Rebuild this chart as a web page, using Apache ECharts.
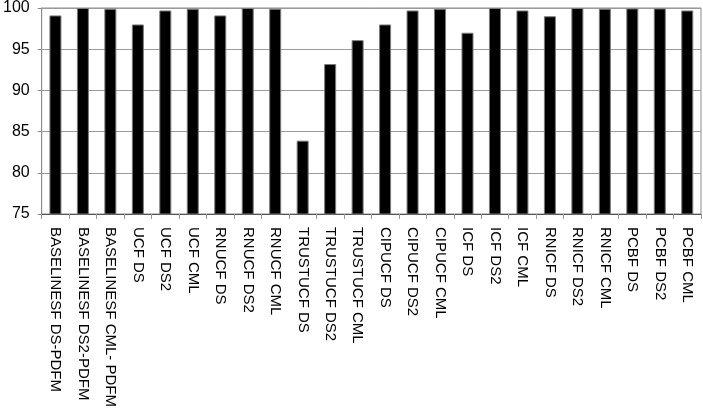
<!DOCTYPE html>
<html style="height:100%">
<head>
    <meta charset="utf-8">
    <title>Scores</title>
    <script src="https://cdn.jsdelivr.net/npm/echarts@6/dist/echarts.min.js"></script>
</head>
<body style="height:100%;width:100%;margin:0;background:#fff;">
    <div id="main" style="width:703px;height:418px;margin:0"></div>
    <script type="text/javascript">
        // categories and values
        var categories = [
            'BASELINESF DS-PDFM', 'BASELINESF DS2-PDFM', 'BASELINESF CML- PDFM',
            'UCF DS', 'UCF DS2', 'UCF CML',
            'RNUCF DS', 'RNUCF DS2', 'RNUCF CML',
            'TRUSTUCF DS', 'TRUSTUCF DS2', 'TRUSTUCF CML',
            'CIPUCF DS', 'CIPUCF DS2', 'CIPUCF CML',
            'ICF DS', 'ICF DS2', 'ICF CML',
            'RNICF DS', 'RNICF DS2', 'RNICF CML',
            'PCBF DS', 'PCBF DS2', 'PCBF CML'
        ];
        var values = [
            99.1, 100, 99.9,
            98.0, 99.7, 99.9,
            99.1, 100, 99.9,
            83.9, 93.2, 96.1,
            98.0, 99.7, 99.9,
            97.0, 100, 99.7,
            99.0, 100, 99.9,
            99.95, 99.95, 99.7
        ];
        var yTicks = { min: 75, max: 100, step: 5 };

        var myChart = echarts.init(document.getElementById('main'));
        myChart.setOption({
            animation: false,
            textStyle: { fontFamily: 'Liberation Sans' },
            grid: {
                left: 38, right: 2, top: 6, bottom: 204,
                show: true,
                borderColor: '#8c8c8c',
                borderWidth: 1
            },
            xAxis: {
                type: 'category',
                data: categories,
                axisLine: { lineStyle: { color: '#555', width: 1 } },
                axisTick: { show: true, length: 5, lineStyle: { color: '#999' } },
                axisLabel: {
                    interval: 0,
                    rotate: -90,
                    margin: 13,
                    color: '#000',
                    fontSize: 15,
                    fontFamily: 'Liberation Sans'
                }
            },
            yAxis: {
                type: 'value',
                min: yTicks.min,
                max: yTicks.max,
                interval: yTicks.step,
                axisLine: { show: true, lineStyle: { color: '#8c8c8c' } },
                axisTick: { show: true, length: 4, lineStyle: { color: '#8c8c8c' } },
                splitLine: { lineStyle: { color: '#9a9a9a', width: 1 } },
                axisLabel: {
                    color: '#000',
                    fontSize: 16,
                    margin: 12,
                    fontFamily: 'Liberation Sans'
                }
            },
            series: [{
                type: 'bar',
                data: values,
                barWidth: 12,
                itemStyle: {
                    color: '#000',
                    borderColor: '#7a7a7a',
                    borderWidth: 1
                }
            }]
        });
    </script>
</body>
</html>
